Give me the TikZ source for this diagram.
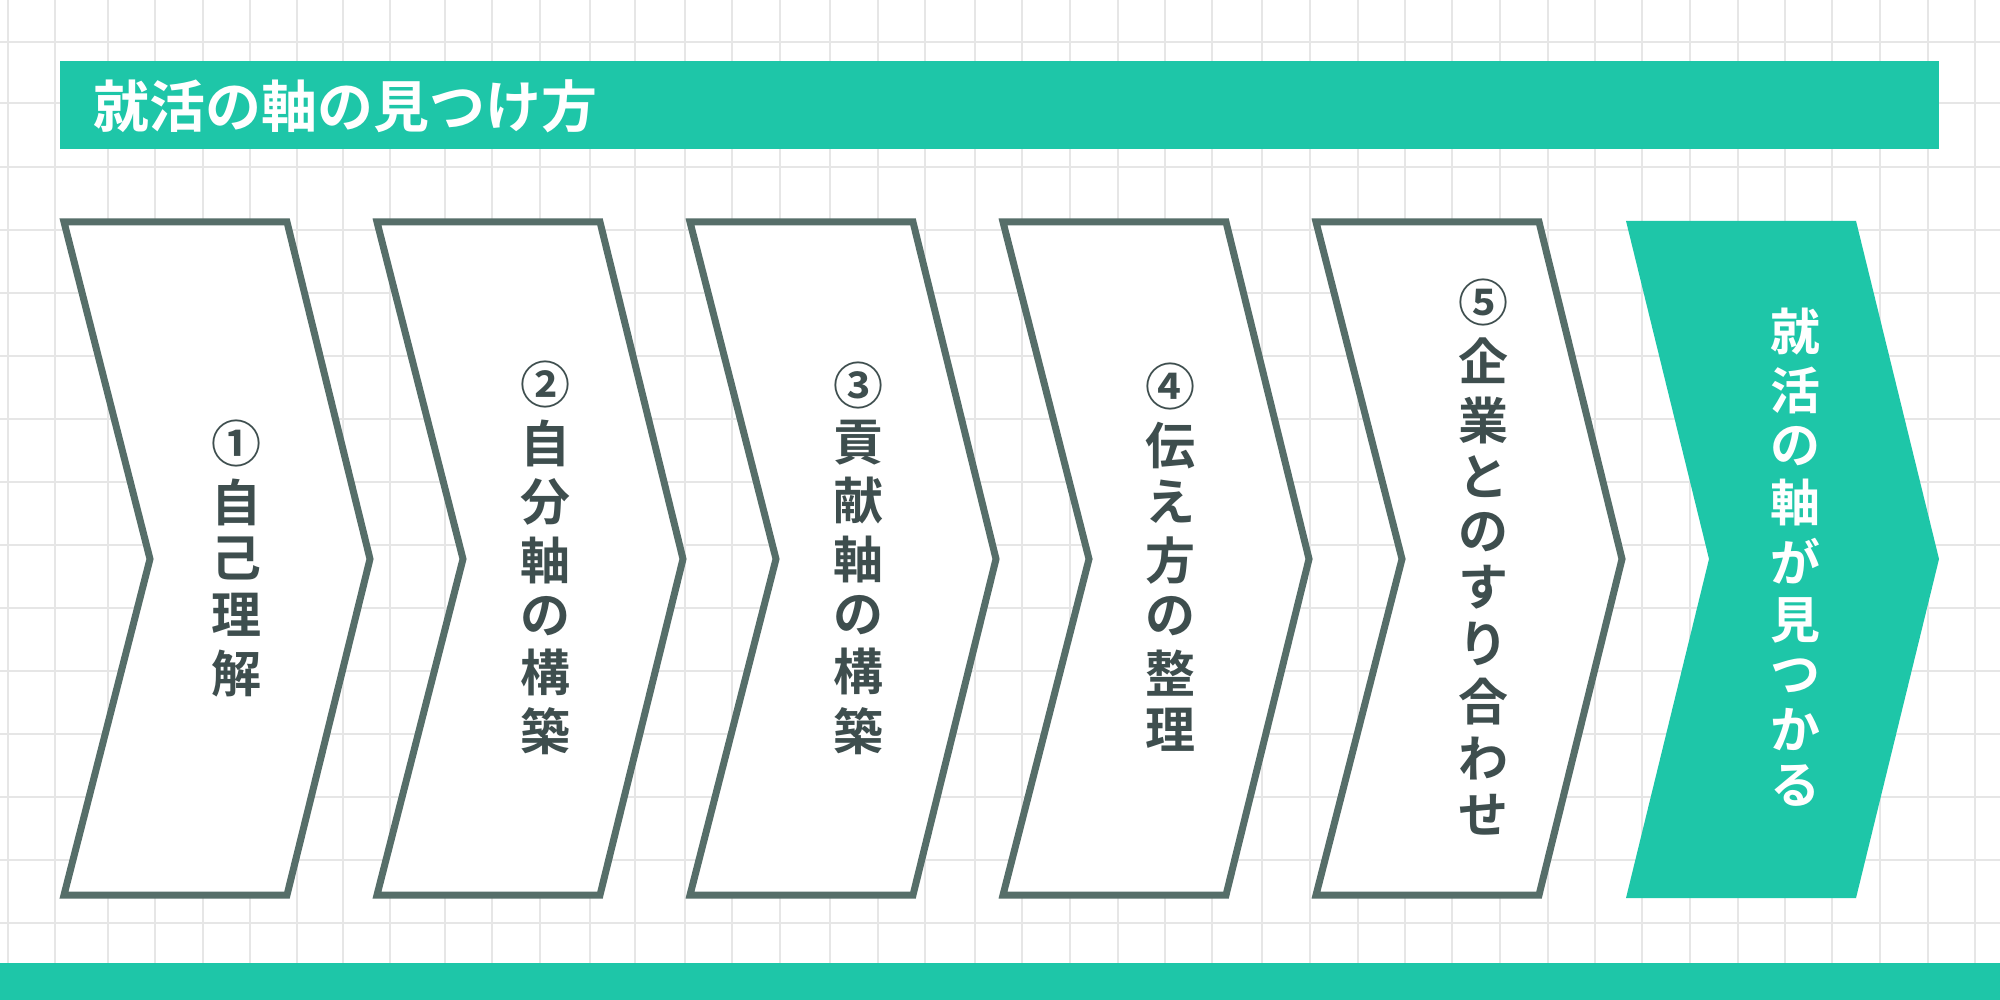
\documentclass[tikz,border=0pt]{standalone}
\usepackage{fontspec}
\newfontfamily\cjk{Noto Sans CJK JP}[UprightFont=* Bold]
\definecolor{teal1}{HTML}{1EC6A8}
\definecolor{strk}{HTML}{566E69}
\definecolor{txt}{HTML}{3E4E4E}
\definecolor{gridc}{HTML}{E6E6E6}
\tikzset{
  chev/.style={draw=strk, line width=3.5pt, fill=white, line join=miter},
  chevf/.style={fill=teal1, draw=none},
  vtext/.style={font=\cjk\fontsize{25}{27}\selectfont, align=center, text=txt, inner sep=0pt},
}
\newcommand{\vt}[1]{\begin{tabular}{@{}c@{}}#1\end{tabular}}
\begin{document}
\begin{tikzpicture}[x=0.5pt,y=-0.5pt]
\useasboundingbox (0,0) rectangle (2000,1000);
\fill[white] (0,0) rectangle (2000,1000);
\foreach \gx in {8,55,108,155,203,250,297,343,390,445,492,540,590,635,685,732,780,830,878,925,975,1022,1070,1118,1165,1212,1262,1310,1358,1405,1452,1500,1548,1595,1642,1690,1738,1785,1832,1880,1928,1975}
  \draw[gridc, line width=0.6pt] (\gx,0) -- (\gx,1000);
\foreach \gy in {42,103,167,230,293,356,419,482,545,608,671,734,797,860,923}
  \draw[gridc, line width=0.6pt] (0,\gy) -- (2000,\gy);
\fill[teal1] (60,61) rectangle (1939,149);
\node[anchor=west, text=white, font=\cjk\fontsize{28}{30}\selectfont, inner sep=0pt] (title) at (93,106) {就活の軸の見つけ方};
\fill[teal1] (0,963) rectangle (2000,1000);
\foreach \i in {0,...,4}{
  \pgfmathsetmacro{\L}{64+313*\i}
  \draw[chev] (\L,222) -- ({\L+223},222) -- ({\L+306},559) -- ({\L+223},895) -- (\L,895) -- ({\L+86},559) -- cycle;
}
\fill[chevf] (1626,221) -- (1856,221) -- (1939,559) -- (1856,898) -- (1626,898) -- (1709,559) -- cycle;
\node[vtext] (t1) at (236,564) {\vt{①\\自\\己\\理\\解}};
\node[vtext] (t2) at (545,564) {\vt{②\\自\\分\\軸\\の\\構\\築}};
\node[vtext] (t3) at (858,564) {\vt{③\\貢\\献\\軸\\の\\構\\築}};
\node[vtext] (t4) at (1170,564) {\vt{④\\伝\\え\\方\\の\\整\\理}};
\node[vtext] (t5) at (1483,564) {\vt{⑤\\企\\業\\と\\の\\す\\り\\合\\わ\\せ}};
\node[vtext, text=white] (t6) at (1795,564) {\vt{就\\活\\の\\軸\\が\\見\\つ\\か\\る}};
\end{tikzpicture}
\end{document}
